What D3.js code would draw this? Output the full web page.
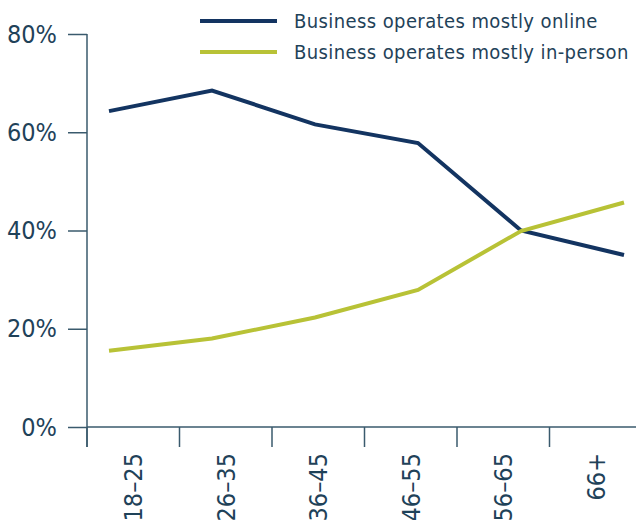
<!DOCTYPE html>
<html>
<head>
<meta charset="utf-8">
<script src="https://cdn.jsdelivr.net/npm/d3@7"></script>
<style>
  body { margin: 0; background: #fff; }
  text { font-family: "DejaVu Sans Condensed", "Liberation Sans Narrow", "Roboto", sans-serif; fill: #1f4259; }
</style>
</head>
<body>
<div id="chart"></div>
<script>
// age groups and share of respondents (%)
const ageGroups = ["18–25", "26–35", "36–45", "46–55", "56–65", "66+"];
const online = [64.3, 68.5, 61.6, 57.8, 40.0, 35.0];
const inPerson = [15.5, 18.0, 22.3, 27.9, 39.9, 45.7];
const yTicks = [0, 20, 40, 60, 80];
const seriesNames = ["Business operates mostly online", "Business operates mostly in-person"];
const colors = ["#133461", "#b8c236"];

const width = 636, height = 520;
const axisColor = "#3a5a6d";

const svg = d3.select("#chart").append("svg")
    .attr("width", width)
    .attr("height", height);

const y = d3.scaleLinear().domain([0, 80]).range([427, 34]);

// bands for tick marks / labels
const xBand = d3.scaleBand().domain(ageGroups).range([87, 642]);
// points for the lines
const xPoint = d3.scalePoint().domain(ageGroups).range([109, 624]);

// y axis
const yAxis = svg.append("g").attr("transform", "translate(87,0)")
    .call(d3.axisLeft(y).tickValues(yTicks).tickSize(19).tickPadding(11).tickFormat(d => d + "%"));
yAxis.select(".domain").remove();
yAxis.selectAll(".tick line").attr("stroke", axisColor).attr("stroke-width", 1.5);
yAxis.selectAll(".tick text").attr("font-size", 25);
yAxis.attr("font-family", null);

svg.append("line")
    .attr("x1", 87).attr("x2", 87)
    .attr("y1", y(80)).attr("y2", 447)
    .attr("stroke", axisColor).attr("stroke-width", 1.5);

// x axis
svg.append("line")
    .attr("x1", 87).attr("x2", width)
    .attr("y1", y(0)).attr("y2", y(0))
    .attr("stroke", axisColor).attr("stroke-width", 1.5);

svg.append("g").selectAll("line")
    .data(ageGroups)
    .join("line")
    .attr("x1", d => xBand(d)).attr("x2", d => xBand(d))
    .attr("y1", y(0)).attr("y2", 447)
    .attr("stroke", axisColor).attr("stroke-width", 1.5);

svg.append("g").selectAll("text")
    .data(ageGroups)
    .join("text")
    .attr("transform", d => `translate(${xBand(d) + xBand.bandwidth() / 2 + 9},453) rotate(-90)`)
    .attr("text-anchor", "end")
    .attr("font-size", 25)
    .text(d => d);

// lines
const line = d3.line()
    .x((d, i) => xPoint(ageGroups[i]))
    .y(d => y(d));

[online, inPerson].forEach((vals, i) => {
    svg.append("path")
        .datum(vals)
        .attr("fill", "none")
        .attr("stroke", colors[i])
        .attr("stroke-width", 4)
        .attr("d", line);
});

// legend
const legend = svg.append("g");
seriesNames.forEach((name, i) => {
    const ly = 21 + i * 31;
    legend.append("line")
        .attr("x1", 200).attr("x2", 277)
        .attr("y1", ly).attr("y2", ly)
        .attr("stroke", colors[i]).attr("stroke-width", 4);
    legend.append("text")
        .attr("x", 294).attr("y", ly + 7)
        .attr("font-size", 20)
        .attr("letter-spacing", 0.4)
        .text(name);
});
</script>
</body>
</html>
